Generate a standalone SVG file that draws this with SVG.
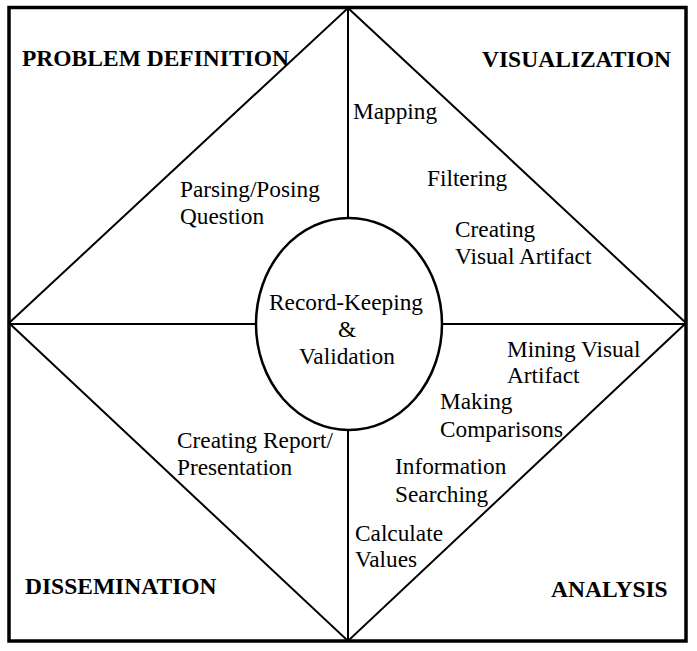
<svg xmlns="http://www.w3.org/2000/svg" width="697" height="651" viewBox="0 0 697 651">
<style>
.ln{stroke:#000;stroke-width:2;fill:none}
.t{font-family:"Liberation Serif","Times New Roman",serif;font-size:23.3px;fill:#000}
.h{font-family:"Liberation Serif","Times New Roman",serif;font-size:23.5px;font-weight:bold;fill:#000}
.c{text-anchor:middle}
</style>
<rect x="0" y="0" width="697" height="651" fill="#fff"/>
<g id="frame">
<rect x="9" y="7.5" width="677" height="633.5" fill="none" stroke="#000" stroke-width="3.5"/>
</g>
<g id="connectors">
<polygon class="ln" points="348,8 686,323 348,641 9,323"/>
<line class="ln" x1="348" y1="8" x2="348" y2="218"/>
<line class="ln" x1="348" y1="430" x2="348" y2="641"/>
<line class="ln" x1="9" y1="324" x2="256" y2="324"/>
<line class="ln" x1="442" y1="324" x2="686" y2="324"/>
</g>
<g id="center">
<ellipse cx="349" cy="324" rx="93" ry="106" fill="#fff" stroke="#000" stroke-width="2.5"/>
<text class="t c" x="346" y="310">Record-Keeping</text>
<text class="t c" x="347" y="337">&amp;</text>
<text class="t c" x="347" y="364">Validation</text>
</g>
<g id="problem-definition">
<text class="h" x="22" y="66">PROBLEM DEFINITION</text>
<text class="t" x="180" y="197">Parsing/Posing</text>
<text class="t" x="180" y="224">Question</text>
</g>
<g id="visualization">
<text class="h" x="482" y="67">VISUALIZATION</text>
<text class="t" x="353" y="119">Mapping</text>
<text class="t" x="427" y="186">Filtering</text>
<text class="t" x="455" y="237">Creating</text>
<text class="t" x="455" y="264">Visual Artifact</text>
</g>
<g id="analysis">
<text class="h" x="551" y="597">ANALYSIS</text>
<text class="t" x="507" y="357">Mining Visual</text>
<text class="t" x="507" y="383">Artifact</text>
<text class="t" x="440" y="409">Making</text>
<text class="t" x="440" y="437">Comparisons</text>
<text class="t" x="395" y="474">Information</text>
<text class="t" x="395" y="502">Searching</text>
<text class="t" x="355" y="541">Calculate</text>
<text class="t" x="355" y="567">Values</text>
</g>
<g id="dissemination">
<text class="h" x="25" y="594">DISSEMINATION</text>
<text class="t" x="177" y="448">Creating Report/</text>
<text class="t" x="177" y="475">Presentation</text>
</g>
</svg>
